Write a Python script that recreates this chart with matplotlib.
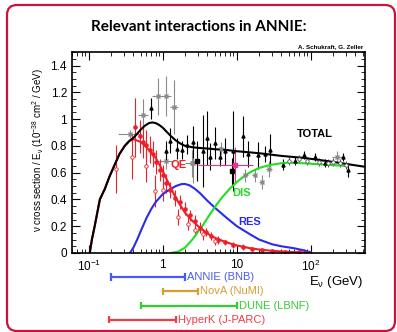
import numpy as np
import matplotlib
matplotlib.use('Agg')
import matplotlib.pyplot as plt
from matplotlib.patches import FancyBboxPatch
from matplotlib.ticker import MultipleLocator

plt.rcParams['font.family'] = ['Liberation Sans', 'DejaVu Sans']
plt.rcParams['mathtext.fontset'] = 'custom'
plt.rcParams['mathtext.rm'] = 'Liberation Sans'
plt.rcParams['mathtext.it'] = 'Liberation Sans:italic'
plt.rcParams['mathtext.bf'] = 'Liberation Sans:bold'
plt.rcParams['mathtext.default'] = 'regular'

### model curves (E in GeV, sigma/E) ###
total_E = [0.103, 0.11, 0.12, 0.13, 0.141, 0.165, 0.19, 0.224, 0.26, 0.306, 0.35, 0.4, 0.45, 0.5, 0.57, 0.65,
           0.72, 0.8, 0.9, 1.0, 1.15, 1.3, 1.5, 1.75, 2.0, 2.5, 3, 4, 5, 7, 10, 20, 40, 80, 150, 300, 520]
total_y = [0.0, 0.1, 0.2, 0.3, 0.4, 0.48, 0.57, 0.66, 0.74, 0.8, 0.835, 0.86, 0.89, 0.92, 0.95, 0.97,
           0.975, 0.97, 0.955, 0.935, 0.9, 0.87, 0.84, 0.815, 0.8, 0.79, 0.785, 0.78, 0.775, 0.77, 0.76,
           0.745, 0.725, 0.71, 0.69, 0.665, 0.645]

qe_E = [0.103, 0.11, 0.12, 0.13, 0.141, 0.165, 0.19, 0.224, 0.26, 0.306, 0.35, 0.4, 0.5, 0.6, 0.7, 0.8, 0.9,
        1.0, 1.15, 1.3, 1.5, 1.75, 2.0, 2.5, 3, 4, 5, 7, 10, 15, 20, 30, 50, 80, 100]
qe_y = [0.0, 0.1, 0.2, 0.3, 0.4, 0.48, 0.57, 0.66, 0.74, 0.8, 0.835, 0.85, 0.83, 0.79, 0.75, 0.71, 0.66,
        0.61, 0.54, 0.48, 0.41, 0.35, 0.3, 0.24, 0.2, 0.145, 0.115, 0.082, 0.056, 0.036, 0.026, 0.016,
        0.008, 0.004, 0.002]

res_E = [0.36, 0.4, 0.45, 0.5, 0.6, 0.7, 0.8, 1.0, 1.2, 1.5, 1.8, 2.0, 2.3, 2.7, 3.2, 4, 5, 7, 10, 15, 20,
         30, 40, 60, 80, 100]
res_y = [0.0, 0.04, 0.1, 0.16, 0.26, 0.33, 0.38, 0.44, 0.47, 0.5, 0.515, 0.515, 0.505, 0.48, 0.445, 0.39,
         0.34, 0.27, 0.2, 0.14, 0.1, 0.065, 0.05, 0.035, 0.02, 0.005]

dis_E = [1.3, 1.6, 2.0, 2.5, 3.0, 3.5, 4.0, 5.0, 6.0, 8.0, 10, 13, 16, 20, 25, 30, 40, 50, 80, 150, 300]
dis_y = [0.0, 0.01, 0.04, 0.1, 0.16, 0.21, 0.26, 0.34, 0.4, 0.48, 0.53, 0.58, 0.61, 0.635, 0.65, 0.66,
         0.67, 0.675, 0.67, 0.66, 0.65]

### measurements ###
red_E = [0.42, 0.49, 0.54, 0.6, 0.67, 0.74, 0.82, 0.91, 1.0, 1.12, 1.24, 1.45, 1.7, 2.0, 2.3, 2.7, 3.2,
         3.8, 4.5, 5.5, 7, 9, 12, 16, 22, 30, 45, 70]
red_y = [0.94, 0.87, 0.83, 0.81, 0.77, 0.74, 0.68, 0.62, 0.58, 0.52, 0.47, 0.41, 0.38, 0.33, 0.28, 0.24,
         0.19, 0.16, 0.13, 0.1, 0.08, 0.06, 0.045, 0.03, 0.02, 0.015, 0.01, 0.005]
red_err = [0.22, 0.12, 0.12, 0.11, 0.1, 0.1, 0.09, 0.08, 0.08, 0.07, 0.06, 0.06, 0.05, 0.05, 0.04, 0.04,
           0.04, 0.03, 0.03, 0.03, 0.02, 0.02, 0.02, 0.015, 0.01, 0.01, 0.01, 0.01]

red_open_E = [0.23, 0.385, 0.59, 0.78, 1.0, 1.6, 2.2, 2.7, 3.5, 5.0]
red_open_y = [0.63, 0.72, 0.65, 0.46, 0.47, 0.27, 0.22, 0.17, 0.14, 0.09]
red_open_err = [0.18, 0.17, 0.12, 0.12, 0.08, 0.06, 0.05, 0.04, 0.04, 0.03]

black_E = [0.69, 1.12, 1.24, 1.53, 1.79, 2.09, 2.57, 3.44, 3.9, 4.3, 5.0, 5.9, 6.9, 8.9, 12.2, 14.3,
           19.5, 23.9, 28, 42, 61, 81, 113, 155, 272, 320]
black_y = [1.08, 0.76, 0.84, 0.78, 0.77, 0.81, 0.83, 0.76, 0.86, 0.72, 0.82, 0.72, 0.76, 0.76, 0.87, 0.74,
           0.73, 0.74, 0.77, 0.66, 0.69, 0.73, 0.72, 0.67, 0.72, 0.62]
black_err = [0.08, 0.08, 0.09, 0.08, 0.07, 0.07, 0.12, 0.27, 0.2, 0.1, 0.12, 0.07, 0.1, 0.3, 0.15, 0.1,
             0.1, 0.06, 0.12, 0.04, 0.03, 0.03, 0.03, 0.03, 0.03, 0.05]

black_sq_E = [2.85, 8.7]
black_sq_y = [0.69, 0.61]
black_sq_err = [0.15, 0.1]

gray_E = [0.36, 0.54, 0.86, 1.12, 1.42, 1.09, 2.44, 2.57, 6.2, 12.8, 17.5, 21.6, 27, 222]
gray_y = [0.89, 1.03, 1.17, 1.17, 1.09, 0.69, 0.67, 0.67, 0.78, 0.58, 0.58, 0.53, 0.63, 0.72]
gray_err = [0.03, 0.12, 0.14, 0.15, 0.2, 0.06, 0.1, 0.15, 0.05, 0.05, 0.05, 0.05, 0.06, 0.04]
gray_lo = [0.25, 0.46, 0.72, 0.95, 1.25, 0.8, 2.0, 2.2, 5.5, 12, 16, 20, 25, 190]
gray_hi = [0.51, 0.64, 1.0, 1.3, 1.6, 1.4, 3.0, 3.0, 7.0, 14, 19, 23, 30, 260]

open_E = [50, 70, 90, 130, 170, 200, 250, 300]
open_y = [0.69, 0.70, 0.69, 0.68, 0.67, 0.68, 0.67, 0.66]

pink_E = [9.4]
pink_y = [0.66]
pink_lo = [3.0]
pink_hi = [16.5]
pink_err = [0.13]

### energy ranges of the beams ###
beams = ['ANNIE (BNB)', 'NovA (NuMI)', 'DUNE (LBNF)', 'HyperK (J-PARC)']
beam_lo = [0.2, 1.0, 0.5, 0.19]
beam_hi = [2.0, 3.0, 10.0, 1.5]
beam_col = ['#4a5cf0', '#d4a033', '#33cc33', '#f03c46']

fig = plt.figure(figsize=(3.97, 3.32), dpi=100)
fig.patch.set_facecolor('white')
fig.patches.append(FancyBboxPatch((0.07, 0.01), 3.88, 3.26, boxstyle='round,pad=0,rounding_size=0.1',
                                  transform=fig.dpi_scale_trans, fc='none', ec='#c8143c', lw=1.6,
                                  zorder=5))

ax = fig.add_axes([0.181, 0.238, 0.738, 0.605])
ax.set_xscale('log')
ax.set_xlim(0.059, 536)
ax.set_ylim(0, 1.5)

ekw = dict(elinewidth=0.8, capsize=0, linestyle='none')
ax.errorbar(gray_E, gray_y, yerr=gray_err,
            xerr=[np.array(gray_E) - np.array(gray_lo), np.array(gray_hi) - np.array(gray_E)],
            fmt='x', color='#8a8a8a', ms=2.2, **ekw)
ax.errorbar(black_E, black_y, yerr=black_err, fmt='^', color='black', ms=2.2, **ekw)
ax.errorbar(black_sq_E, black_sq_y, yerr=black_sq_err, fmt='s', color='black', ms=2.5, **ekw)
ax.errorbar(open_E, open_y, yerr=0.03, fmt='o', color='#555555', mfc='white', ms=2.5, mew=0.6, **ekw)
ax.errorbar(red_E, red_y, yerr=red_err, fmt='o', color='#f01e28', ms=2.3, **ekw)
ax.errorbar(red_open_E, red_open_y, yerr=red_open_err, fmt='o', color='#f01e28', mfc='white', ms=2.5,
            mew=0.6, **ekw)
ax.errorbar(pink_E, pink_y, yerr=pink_err,
            xerr=[np.array(pink_E) - np.array(pink_lo), np.array(pink_hi) - np.array(pink_E)],
            fmt='s', color='#f0308c', ms=2.5, **ekw)

ax.plot(res_E, res_y, color='#2a2af0', lw=1.5)
ax.plot(dis_E, dis_y, color='#22dd22', lw=1.5)
ax.plot(qe_E, qe_y, color='#f01e28', lw=1.5)
ax.plot(total_E, total_y, color='black', lw=1.5)

ax.text(1.25, 0.66, 'QE', color='#f01e28', fontsize=8, fontweight='bold', ha='left', va='center')
ax.text(8.8, 0.45, 'DIS', color='#22dd22', fontsize=8, fontweight='bold', ha='left', va='center')
ax.text(10.5, 0.23, 'RES', color='#2a2af0', fontsize=8, fontweight='bold', ha='left', va='center')
ax.text(65, 0.89, 'TOTAL', color='black', fontsize=8, fontweight='bold', ha='left', va='center')

ax.set_yticks([0, 0.2, 0.4, 0.6, 0.8, 1.0, 1.2, 1.4])
ax.set_yticklabels(['0', '0.2', '0.4', '0.6', '0.8', '1', '1.2', '1.4'])
ax.yaxis.set_minor_locator(MultipleLocator(0.05))
ax.set_xticks([0.1, 1, 10, 100])
ax.set_xticklabels(['$10^{-1}$', '1', '10', '$10^{2}$'])
ax.tick_params(which='both', direction='in', top=True, right=True, labelsize=8.5)
ax.tick_params(which='major', length=6, width=0.8)
ax.tick_params(which='minor', length=3, width=0.6)
ax.tick_params(axis='x', pad=4)
for s in ax.spines.values():
    s.set_linewidth(1.2)

# beam ranges below the axis
ax2 = fig.add_axes([0.181, 0.015, 0.738, 0.172])
ax2.set_xscale('log')
ax2.set_xlim(0.059, 536)
ax2.set_ylim(3.5, -0.5)
ax2.axis('off')
for i in range(len(beams)):
    ax2.hlines(i, beam_lo[i], beam_hi[i], color=beam_col[i], lw=1.6)
    ax2.vlines([beam_lo[i], beam_hi[i]], i - 0.25, i + 0.25, color=beam_col[i], lw=1.6)
    ax2.text(beam_hi[i] * 1.07, i, beams[i], color=beam_col[i], fontsize=8, ha='left', va='center')

fig.text(0.5, 1 - 27 / 332, 'Relevant interactions in ANNIE:', family=['Lato', 'DejaVu Sans'],
         fontweight='bold', fontsize=11, ha='center', va='center')
fig.text(363 / 397, 1 - 47 / 332, 'A. Schukraft, G. Zeller', fontsize=4.5, fontweight='bold',
         ha='right', va='center')
fig.text(363 / 397, 1 - 282 / 332, 'E$_{ν}$ (GeV)', fontsize=9.5, ha='right', va='center')
fig.text(38 / 397, 1 - 150 / 332, 'ν cross section / E$_{ν}$ (10$^{-38}$ cm$^2$ / GeV)',
         fontsize=7, rotation=90, ha='center', va='center')

fig.savefig('out.png', dpi=100)
